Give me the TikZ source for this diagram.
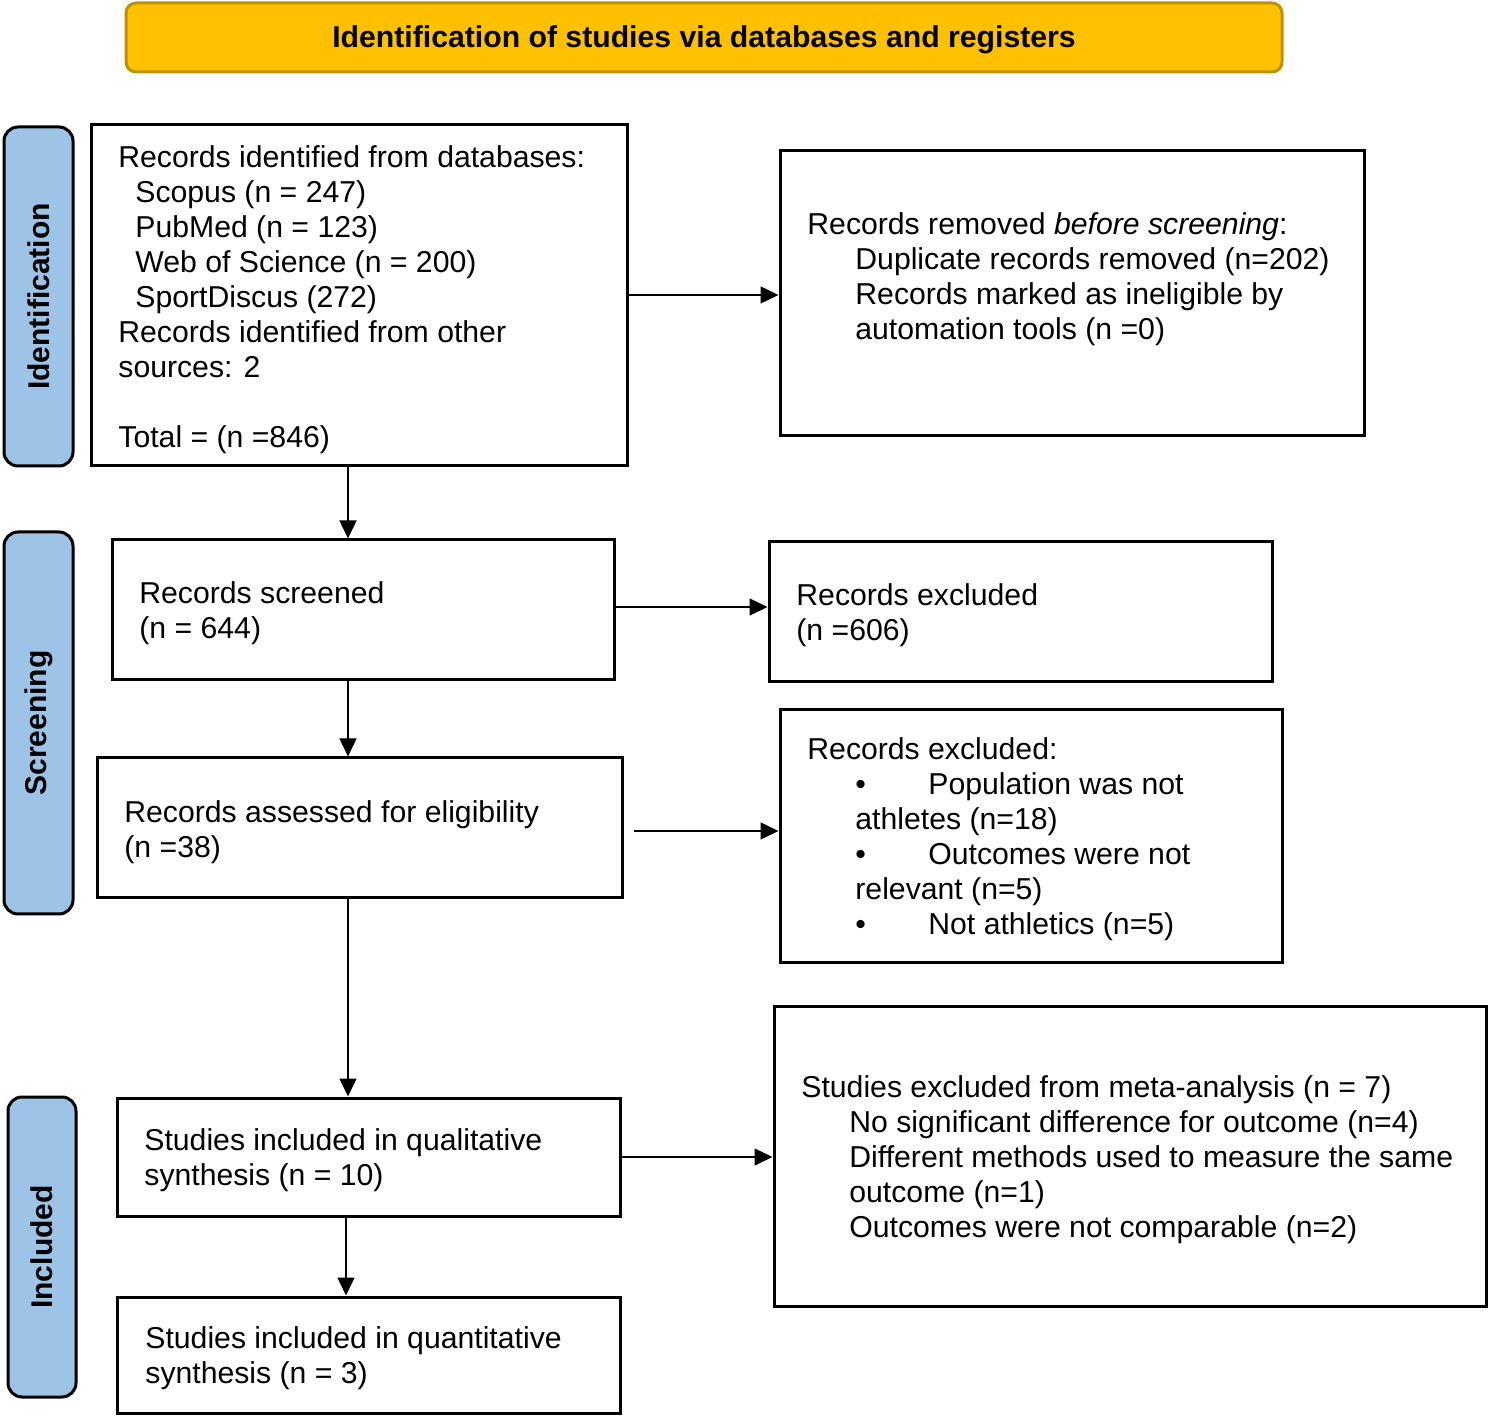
\documentclass[tikz,border=0pt]{standalone}
\usepackage{fontspec}
\setmainfont{Liberation Sans}
\usetikzlibrary{arrows.meta}
\definecolor{bannerfill}{HTML}{FFC000}
\definecolor{bannerdraw}{HTML}{BF9000}
\definecolor{sidefill}{HTML}{9DC3E6}
\begin{document}
\begin{tikzpicture}[x=0.5pt,y=-0.5pt,
  box/.style={draw=black,line width=1.5pt,fill=white,inner sep=0pt},
  txt/.style={anchor=west,align=left,inner sep=0pt,yshift=-1.5pt,font=\fontsize{15.1}{17.5}\selectfont},
  banner/.style={draw=bannerdraw,line width=1.5pt,fill=bannerfill,rounded corners=5pt,inner sep=0pt},
  bantxt/.style={inner sep=0pt,font=\fontsize{15.1}{17.5}\selectfont\bfseries},
  side/.style={draw=black,line width=1.5pt,fill=sidefill,rounded corners=7pt,inner sep=0pt},
  sidetxt/.style={rotate=90,inner sep=0pt,font=\fontsize{15}{17.5}\selectfont\bfseries},
  arr/.style={line width=0.75pt,-{Triangle[length=9pt,width=8.5pt]}}]
\useasboundingbox (0,0) rectangle (1489,1416);
% banner
\node[banner,minimum width=578pt,minimum height=34.5pt] (ban) at (704,37.5) {};
\node[bantxt] (bant) at (704,40) {Identification of studies via databases and registers};
% side labels
\node[side,minimum width=34.5pt,minimum height=169.5pt] (s1) at (38.5,296.5) {};
\node[sidetxt] (s1t) at (38.5,296.5) {Identification};
\node[side,minimum width=34.5pt,minimum height=191pt] (s2) at (38.5,723) {};
\node[sidetxt] (s2t) at (38.5,723) {Screening};
\node[side,minimum width=34pt,minimum height=150pt] (s3) at (42,1247) {};
\node[sidetxt] (s3t) at (42,1247) {Included};
% boxes
\node[box,minimum width=268pt,minimum height=170.5pt] (b1) at (359,295.5) {};
\node[box,minimum width=292pt,minimum height=142.5pt] (b2) at (1072,293.5) {};
\node[box,minimum width=251pt,minimum height=70pt] (b3) at (363,610) {};
\node[box,minimum width=251.5pt,minimum height=70pt] (b4) at (1020.5,612) {};
\node[box,minimum width=262.5pt,minimum height=70pt] (b5) at (359.5,828) {};
\node[box,minimum width=251pt,minimum height=126pt] (b6) at (1031,836) {};
\node[box,minimum width=251.5pt,minimum height=59pt] (b7) at (368.5,1157) {};
\node[box,minimum width=356pt,minimum height=150pt] (b8) at (1130,1156) {};
\node[box,minimum width=251.5pt,minimum height=58pt] (b9) at (368.5,1355) {};
% texts
\node[txt] (t1) at (118,297) {Records identified from databases:\\
\hspace*{8.5pt}Scopus (n = 247)\\
\hspace*{8.5pt}PubMed (n = 123)\\
\hspace*{8.5pt}Web of Science (n = 200)\\
\hspace*{8.5pt}SportDiscus (272)\\
Records identified from other\\
sources: 2\\
\strut\\
Total = (n =846)};
\node[txt] (t2) at (807,276.5) {Records removed \textit{before screening}:\\
\hspace*{24pt}Duplicate records removed (n=202)\\
\hspace*{24pt}Records marked as ineligible by\\
\hspace*{24pt}automation tools (n =0)};
\node[txt] (t3) at (139,610.5) {Records screened\\(n = 644)};
\node[txt] (t4) at (796,612.5) {Records excluded\\(n =606)};
\node[txt] (t5) at (124,829.5) {Records assessed for eligibility\\(n =38)};
\node[txt] (t6) at (807,836.5) {Records excluded:\\
\hspace*{24pt}\makebox[36.5pt][l]{•}Population was not\\
\hspace*{24pt}athletes (n=18)\\
\hspace*{24pt}\makebox[36.5pt][l]{•}Outcomes were not\\
\hspace*{24pt}relevant (n=5)\\
\hspace*{24pt}\makebox[36.5pt][l]{•}Not athletics (n=5)};
\node[txt] (t7) at (144,1157.5) {Studies included in qualitative\\synthesis (n = 10)};
\node[txt] (t8) at (801,1157) {Studies excluded from meta-analysis (n = 7)\\
\hspace*{24pt}No significant difference for outcome (n=4)\\
\hspace*{24pt}Different methods used to measure the same\\
\hspace*{24pt}outcome (n=1)\\
\hspace*{24pt}Outcomes were not comparable (n=2)};
\node[txt] (t9) at (145,1355.5) {Studies included in quantitative\\synthesis (n = 3)};
% connectors
\coordinate (sp) at (348,0);
\coordinate (sq) at (346,0);
\coordinate (y1) at (0,295);
\coordinate (y3) at (0,607);
\coordinate (y5) at (0,831);
\coordinate (y7) at (0,1157);
\draw[arr] (b1.east |- y1) -- (b2.west |- y1);
\draw[arr] (b1.south -| sp) -- (b3.north -| sp);
\draw[arr] (b3.east |- y3) -- (b4.west |- y3);
\draw[arr] (b3.south -| sp) -- (b5.north -| sp);
\draw[arr] ([xshift=5pt]b5.east |- y5) -- (b6.west |- y5);
\draw[arr] (b5.south -| sp) -- (b7.north -| sp);
\draw[arr] (b7.east |- y7) -- (b8.west |- y7);
\draw[arr] (b7.south -| sq) -- (b9.north -| sq);
\end{tikzpicture}
\end{document}
